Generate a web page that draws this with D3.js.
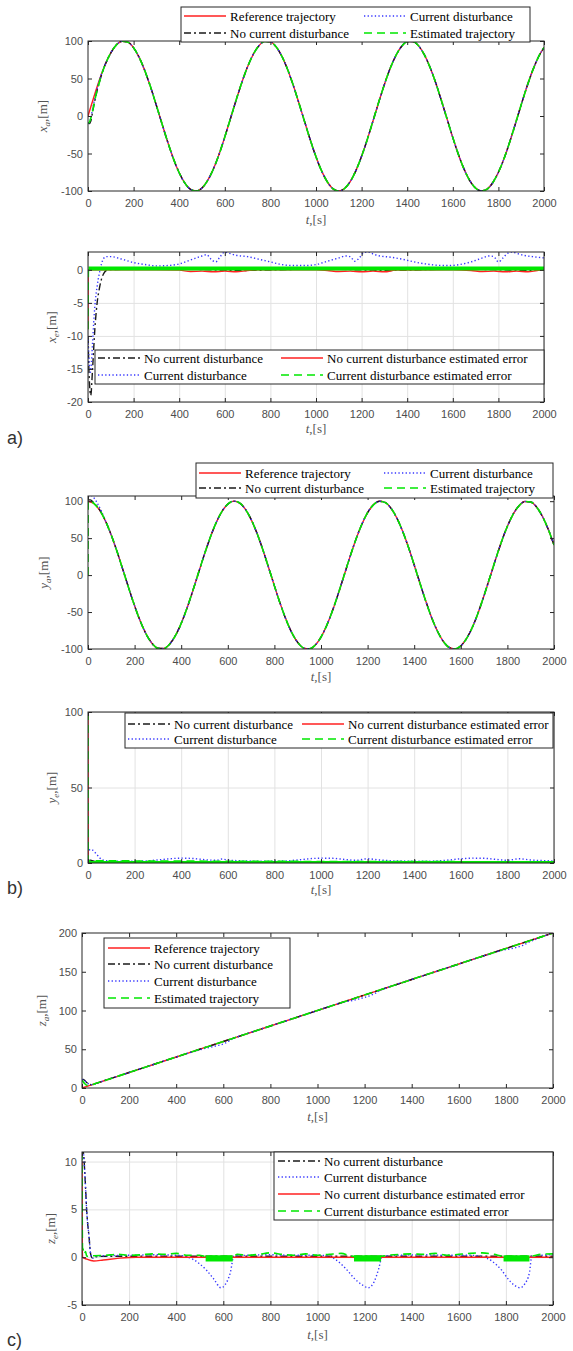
<!DOCTYPE html>
<html lang="en">
<head>
  <meta charset="utf-8">
  <script src="https://d3js.org/d3.v7.min.js"></script>
  <style>
    body { margin: 0; background: #fff; }
  </style>
</head>
<body>
  <svg id="fig" width="573" height="1351"></svg>

  <script>
    // ---- data ----
    const tTicks = [0, 200, 400, 600, 800, 1000, 1200, 1400, 1600, 1800, 2000];

    // time samples for the trajectory panels
    const tGrid = [0,25,50,75,100,125,150,175,200,225,250,275,300,325,350,375,400,425,450,475,500,525,550,575,600,625,650,675,700,725,750,775,800,825,850,875,900,925,950,975,1000,1025,1050,1075,1100,1125,1150,1175,1200,1225,1250,1275,1300,1325,1350,1375,1400,1425,1450,1475,1500,1525,1550,1575,1600,1625,1650,1675,1700,1725,1750,1775,1800,1825,1850,1875,1900,1925,1950,1975,2000];

    // a) x reference trajectory
    const xRef = [0,24.7,47.9,68.2,84.1,94.9,99.7,98.4,90.9,77.8,59.8,38.2,14.1,-10.8,-35.1,-57.2,-75.7,-89.5,-97.8,-99.9,-95.9,-85.9,-70.6,-51.0,-27.9,-3.3,21.5,45.0,65.7,82.3,93.8,99.5,98.9,92.2,79.8,62.4,41.2,17.3,-7.5,-32.0,-54.4,-73.5,-88.0,-97.1,-100,-96.7,-87.5,-72.8,-53.7,-31.3,-6.6,18.3,42.0,63.2,80.4,92.6,99.1,99.4,93.5,81.8,65.0,44.3,20.6,-4.2,-28.8,-51.6,-71.2,-86.4,-96.1,-99.9,-97.6,-89.0,-75.1,-56.5,-34.4,-9.9,15.0,39.0,60.5,78.3,91.3];
    // start of the other x curves (they lie on the reference afterwards)
    const xNoCurHeadT = [0, 6, 12, 20, 30, 40, 50, 60];
    const xNoCurHead  = [-9, -10, -7, 5, 20.6, 34, 45, 55.5];
    const xCurHeadT   = [0, 5, 10, 20, 30, 40, 50, 60];
    const xCurHead    = [-9, -9, -5.5, 9, 24, 36.4, 47.4, 57];
    const xEstHeadT   = [0, 3, 8, 15, 25, 35, 50, 60];
    const xEstHead    = [-9, -9.3, -7, 0, 14, 28, 45, 55.5];

    // a) x errors
    const xeNoCurT = [0, 5, 12, 20, 30, 40, 50, 60, 70, 80, 100, 400, 600, 650, 1000, 1250, 1300, 1600, 1880, 1930, 2000];
    const xeNoCur  = [-10, -16, -19, -15, -9, -5, -2.8, -1.3, -0.5, -0.1, 0.05, 0.1, -0.05, -0.1, 0.1, -0.05, -0.1, 0.1, -0.05, -0.1, 0.1];
    const xeCurT = [0,5,10,15,20,25,30,40,50,60,70,80,100,150,200,250,300,350,400,450,500,520,540,560,580,600,620,650,700,750,800,850,900,950,1000,1050,1100,1130,1150,1170,1190,1210,1230,1250,1280,1330,1380,1430,1480,1530,1580,1630,1680,1730,1760,1780,1800,1820,1840,1860,1880,1910,1950,2000];
    const xeCur  = [-10,-14,-15.5,-14,-11,-8,-5.5,-2.5,-0.5,1.0,1.8,2.0,2.0,1.6,1.1,0.8,0.6,0.65,0.9,1.5,2.1,2.3,1.6,1.2,2.0,2.7,2.5,2.2,2.0,1.6,1.2,0.8,0.65,0.65,0.8,1.3,1.8,2.1,2.0,1.3,1.8,2.6,2.7,2.4,2.1,1.9,1.6,1.2,0.9,0.7,0.65,0.8,1.2,1.8,2.1,2.0,1.2,1.8,2.5,2.7,2.5,2.2,2.0,1.8];
    const xeRefT = [0,1,3,100,300,400,450,500,550,600,650,700,750,1000,1050,1100,1150,1200,1250,1300,1350,1600,1680,1730,1780,1830,1880,1930,1970,2000];
    const xeRef  = [-9,-0.5,0,0,0,-0.05,-0.25,-0.2,-0.3,-0.2,-0.3,-0.1,0,0,-0.1,-0.25,-0.2,-0.3,-0.2,-0.3,-0.05,0,-0.1,-0.25,-0.2,-0.3,-0.2,-0.3,-0.1,0];
    const xeEstT = [0, 1, 2, 2000];
    const xeEst  = [-9, -2, 0.2, 0.2];
    const xeEstBand = [[2, 2000, -0.1, 0.5]];   // fast oscillation envelope

    // b) y reference trajectory
    const yRef = [100,96.9,87.8,73.2,54.0,31.5,7.1,-17.8,-41.6,-62.8,-80.1,-92.4,-99.0,-99.4,-93.6,-82.0,-65.4,-44.6,-21.1,3.8,28.4,51.2,70.9,86.1,96.0,100,97.7,89.3,75.4,56.8,34.7,10.3,-14.6,-38.6,-60.2,-78.1,-91.1,-98.5,-99.7,-94.8,-83.9,-67.8,-47.6,-24.4,0.4,25.3,48.4,68.5,84.4,95.0,99.8,98.3,90.7,77.5,59.5,37.9,13.7,-11.3,-35.5,-57.6,-76.0,-89.7,-97.9,-99.9,-95.8,-85.7,-70.3,-50.5,-27.5,-2.9,21.9,45.5,66.0,82.5,93.9,99.5,98.9,92.1,79.6,62.2,40.8];
    const yNoCurHeadT = [0, 10, 25, 40, 60];
    const yNoCurHead  = [101.5, 101.8, 97.5, 92.6, 83];
    const yCurHeadT   = [0, 10, 20, 30, 40, 60];
    const yCurHead    = [106, 108, 106.6, 102.5, 97.4, 84.7];
    const yEstHeadT   = [0, 1, 4, 10, 25];
    const yEstHead    = [0, 99, 100.5, 100.5, 97];

    // b) y errors
    const yeNoCurT = [0, 10, 30, 60, 100, 2000];
    const yeNoCur  = [1.5, 1.8, 1.0, 0.6, 0.5, 0.5];
    const yeCurT = [0,5,10,20,30,40,50,60,80,100,150,200,250,300,350,400,450,500,550,575,600,650,700,750,800,850,900,950,1000,1050,1100,1150,1200,1250,1300,1350,1400,1450,1500,1550,1600,1650,1700,1750,1800,1850,1900,1950,2000];
    const yeCur  = [6,8.2,9,8.6,7,5.3,3.5,2.2,1.5,1.3,1.2,1.2,1.4,2.0,2.8,3.2,3.0,2.2,1.8,2.6,2.0,1.5,1.3,1.2,1.2,1.4,2.0,2.8,3.2,3.1,2.4,1.8,2.8,2.0,1.5,1.3,1.2,1.2,1.4,2.0,2.8,3.2,3.1,2.4,1.8,2.8,2.0,1.6,1.4];
    const yeRefT = [0,1,3,300,330,370,410,440,930,960,1000,1040,1070,1560,1590,1630,1670,1700,2000];
    const yeRef  = [100,3,0.3,0.3,-0.4,-0.1,-0.4,0.3,0.3,-0.4,-0.1,-0.4,0.3,0.3,-0.4,-0.1,-0.4,0.3,0.3];
    const yeEstT = [0, 1, 2000];
    const yeEst  = [100, 1.5, 0.8];
    const yeEstBand = [[1, 2000, 0, 1.4]];

    // c) z trajectories
    const zT     = [0,5,10,20,30,40,60,100,200,300,400,500,540,570,590,610,640,700,800,900,1000,1100,1160,1190,1215,1240,1270,1300,1400,1500,1600,1700,1790,1820,1845,1870,1900,2000];
    const zRef   = [0,0.5,1,2,3,4,6,10,20,30,40,50,54,57,59,61,64,70,80,90,100,110,116,119,121.5,124,127,130,140,150,160,170,179,182,184.5,187,190,200];
    const zNoCur = [10.5,11,10.3,7,5,4.3,6,10,20,30,40,50,54,57,59,61,64,70,80,90,100,110,116,119,121.5,124,127,130,140,150,160,170,179,182,184.5,187,190,200];
    const zCur   = [10.5,11,10.3,7,5,4.3,6,10,20,30,40,49.3,52.3,54.4,55.8,58.2,63.5,70,80,90,100,110,113.7,116.1,118.3,121.4,126.5,130,140,150,160,170,178,179.7,181.5,183.8,188.4,200];
    const zEst   = [10,8,6,3.5,3.2,4,6,10,20,30,40,50,54,57,59,61,64,70,80,90,100,110,116,119,121.5,124,127,130,140,150,160,170,179,182,184.5,187,190,200];

    // c) z errors
    const zeNoCurT = [0, 5, 13, 20, 30, 37, 45, 60, 100, 2000];
    const zeNoCur  = [10.5, 11, 8.3, 4.8, 2.1, 0.3, -0.1, 0.05, 0.1, 0.1];
    const zeCurT = [0,5,13,20,30,37,45,60,100,200,300,400,450,500,530,560,590,610,630,645,700,800,900,1000,1050,1080,1120,1160,1190,1215,1240,1260,1275,1350,1450,1550,1650,1700,1740,1780,1810,1840,1860,1880,1900,1910,1950,2000];
    const zeCur  = [11,11,8.3,4.8,2.1,0.3,-0.1,0.1,0.15,0.2,0.25,0.2,0.0,-0.7,-1.4,-2.3,-3.2,-2.8,-1.6,0.1,0.2,0.25,0.2,0.2,0.1,-0.3,-1.2,-2.3,-2.9,-3.2,-2.6,-1.2,0.1,0.2,0.25,0.2,0.2,0.05,-0.4,-1.3,-2.3,-3.0,-3.2,-2.8,-1.6,0.1,0.2,0.25];
    const zeRefT = [0, 1, 3, 20, 50, 90, 160, 230, 2000];
    const zeRef  = [10, 1, 0, -0.2, -0.4, -0.3, -0.1, 0, 0];
    const zeEstT = [0,2,5,10,15,20,30,50,100,150,200,250,300,350,400,450,500,520,640,660,700,750,800,850,900,950,1000,1050,1100,1150,1270,1300,1350,1400,1450,1500,1550,1600,1650,1700,1750,1790,1900,1950,2000];
    const zeEst  = [11,1,0.8,0.3,0.6,0.1,0.1,0.15,0.2,0.3,0.2,0.25,0.35,0.3,0.4,0.2,0.2,0.1,0.1,0.3,0.2,0.3,0.45,0.3,0.2,0.35,0.2,0.3,0.4,0.1,0.1,0.2,0.3,0.35,0.3,0.4,0.2,0.3,0.4,0.45,0.3,0.1,0.1,0.3,0.35];
    const zeEstBand = [[525, 640, -0.45, 0.2], [1155, 1270, -0.45, 0.2], [1790, 1900, -0.45, 0.2]];

    // ---- helpers ----
    function pairs(ts, vs) { return ts.map((t, i) => [t, vs[i]]); }
    // head of a curve, then it runs on the reference from fromT on
    function withTail(headT, headV, fromT, ref) {
      const pts = pairs(headT, headV);
      tGrid.forEach((t, i) => { if (t >= fromT) pts.push([t, ref[i]]); });
      return pts;
    }

    const lineStyles = {
      ref:   { stroke: "#ff2020", dash: null,      width: 1.4 },
      noCur: { stroke: "#1a1a1a", dash: "7,3,2,3", width: 1.4 },
      cur:   { stroke: "#3636ff", dash: "1.3,2.3", width: 1.4 },
      est:   { stroke: "#00e800", dash: "8,5",     width: 1.6 }
    };

    const trajItems = [["ref", "Reference trajectory"], ["noCur", "No current disturbance"],
                       ["cur", "Current disturbance"], ["est", "Estimated trajectory"]];
    const errItems = [["noCur", "No current disturbance"], ["cur", "Current disturbance"],
                      ["ref", "No current disturbance estimated error"], ["est", "Current disturbance estimated error"]];

    const panels = [
      { box: [88, 41, 544, 191], yDom: [-100, 100], yTicks: [-100, -50, 0, 50, 100], grid: false,
        yVar: "x", ySub: "a", yLabX: 47, xLabY: 224,
        series: [["ref", pairs(tGrid, xRef)], ["noCur", withTail(xNoCurHeadT, xNoCurHead, 75, xRef)],
                 ["cur", withTail(xCurHeadT, xCurHead, 75, xRef)], ["est", withTail(xEstHeadT, xEstHead, 75, xRef)]],
        bands: [],
        legend: { box: [181, 7, 530, 42], cols: [184, 364], rows: [16, 33], items: trajItems } },
      { box: [88, 252, 544, 402], yDom: [-20, 2.7], yTicks: [-20, -15, -10, -5, 0], grid: true,
        yVar: "x", ySub: "e", yLabX: 56, xLabY: 433, tag: ["a)", 444],
        series: [["noCur", pairs(xeNoCurT, xeNoCur)], ["cur", pairs(xeCurT, xeCur)],
                 ["ref", pairs(xeRefT, xeRef)], ["est", pairs(xeEstT, xeEst)]],
        bands: xeEstBand,
        legend: { box: [95, 350, 544, 384], cols: [98, 281], rows: [358, 375], items: errItems } },
      { box: [88, 496, 554, 649], yDom: [-100, 107], yTicks: [-100, -50, 0, 50, 100], grid: false,
        yVar: "y", ySub: "a", yLabX: 48, xLabY: 681,
        series: [["ref", pairs(tGrid, yRef)], ["noCur", withTail(yNoCurHeadT, yNoCurHead, 75, yRef)],
                 ["cur", withTail(yCurHeadT, yCurHead, 75, yRef)], ["est", withTail(yEstHeadT, yEstHead, 50, yRef)]],
        bands: [],
        legend: { box: [196, 463, 553, 498], cols: [199, 384], rows: [473, 488], items: trajItems } },
      { box: [88, 712, 554, 863], yDom: [0, 100], yTicks: [0, 50, 100], grid: true,
        yVar: "y", ySub: "e", yLabX: 56, xLabY: 894, tag: ["b)", 894],
        series: [["noCur", pairs(yeNoCurT, yeNoCur)], ["cur", pairs(yeCurT, yeCur)],
                 ["ref", pairs(yeRefT, yeRef)], ["est", pairs(yeEstT, yeEst)]],
        bands: yeEstBand,
        legend: { box: [125, 713, 553, 748], cols: [128, 302], rows: [724, 739], items: errItems } },
      { box: [82, 933, 553, 1088], yDom: [0, 200], yTicks: [0, 50, 100, 150, 200], grid: false,
        yVar: "z", ySub: "a", yLabX: 46, xLabY: 1121,
        series: [["ref", pairs(zT, zRef)], ["noCur", pairs(zT, zNoCur)],
                 ["cur", pairs(zT, zCur)], ["est", pairs(zT, zEst)]],
        bands: [],
        legend: { box: [104, 938, 290, 1008], cols: [108], rows: [948, 964, 981, 998], items: trajItems } },
      { box: [82, 1152, 553, 1305], yDom: [-5, 11], yTicks: [-5, 0, 5, 10], grid: true,
        yVar: "z", ySub: "e", yLabX: 55, xLabY: 1339, tag: ["c)", 1346],
        series: [["noCur", pairs(zeNoCurT, zeNoCur)], ["cur", pairs(zeCurT, zeCur)],
                 ["ref", pairs(zeRefT, zeRef)], ["est", pairs(zeEstT, zeEst)]],
        bands: zeEstBand,
        legend: { box: [274, 1152, 553, 1220], cols: [278], rows: [1161, 1177, 1194, 1211], items: errItems } }
    ];

    const svg = d3.select("#fig");
    const sans = "'Liberation Sans', Arial, sans-serif";
    const serif = "'Liberation Serif', 'Times New Roman', serif";

    function styleLine(sel, key) {
      const s = lineStyles[key];
      sel.attr("fill", "none")
        .attr("stroke", s.stroke)
        .attr("stroke-width", s.width)
        .attr("stroke-dasharray", s.dash);
    }

    panels.forEach((p, k) => {
      const [x0, y0, x1, y1] = p.box;
      const x = d3.scaleLinear().domain([0, 2000]).range([x0, x1]);
      const y = d3.scaleLinear().domain(p.yDom).range([y1, y0]);
      const g = svg.append("g");

      // grid
      if (p.grid) {
        const gx = g.append("g").attr("transform", `translate(0,${y1})`)
          .call(d3.axisBottom(x).tickValues(tTicks).tickSize(-(y1 - y0)).tickFormat(""));
        const gy = g.append("g").attr("transform", `translate(${x0},0)`)
          .call(d3.axisLeft(y).tickValues(p.yTicks).tickSize(-(x1 - x0)).tickFormat(""));
        [gx, gy].forEach(a => {
          a.select(".domain").remove();
          a.selectAll("line").attr("stroke", "#e2e2e2").attr("stroke-width", 1);
        });
      }

      // clip
      svg.append("clipPath").attr("id", "clip" + k)
        .append("rect").attr("x", x0).attr("y", y0).attr("width", x1 - x0).attr("height", y1 - y0);
      const plot = g.append("g").attr("clip-path", `url(#clip${k})`);

      const line = d3.line().x(d => x(d[0])).y(d => y(d[1])).curve(d3.curveMonotoneX);
      p.series.forEach(([key, pts]) => {
        plot.append("path").attr("d", line(pts)).call(styleLine, key);
      });

      // envelope of the fast oscillating estimated error
      const band = d3.area().x(d => x(d[0])).y0(d => y(d[1])).y1(d => y(d[2]));
      p.bands.forEach(b => {
        plot.append("path")
          .attr("d", band([[b[0], b[2], b[3]], [b[1], b[2], b[3]]]))
          .attr("fill", lineStyles.est.stroke);
      });

      // box
      g.append("rect").attr("x", x0).attr("y", y0).attr("width", x1 - x0).attr("height", y1 - y0)
        .attr("fill", "none").attr("stroke", "#262626").attr("stroke-width", 1);

      // axes, ticks pointing inward on all four sides
      const fmt = d => String(d);
      const axB = g.append("g").attr("transform", `translate(0,${y1})`)
        .call(d3.axisBottom(x).tickValues(tTicks).tickSizeInner(-4).tickSizeOuter(0).tickPadding(8).tickFormat(fmt));
      const axT = g.append("g").attr("transform", `translate(0,${y0})`)
        .call(d3.axisTop(x).tickValues(tTicks).tickSizeInner(-4).tickSizeOuter(0).tickFormat(""));
      const axL = g.append("g").attr("transform", `translate(${x0},0)`)
        .call(d3.axisLeft(y).tickValues(p.yTicks).tickSizeInner(-4).tickSizeOuter(0).tickPadding(5).tickFormat(fmt));
      const axR = g.append("g").attr("transform", `translate(${x1},0)`)
        .call(d3.axisRight(y).tickValues(p.yTicks).tickSizeInner(-4).tickSizeOuter(0).tickFormat(""));
      [axB, axT, axL, axR].forEach(a => {
        a.select(".domain").remove();
        a.selectAll("line").attr("stroke", "#262626");
        a.selectAll("text").attr("font-family", sans).attr("font-size", 11).attr("fill", "#4d4d4d");
      });

      // axis labels
      const xl = g.append("text").attr("x", (x0 + x1) / 2).attr("y", p.xLabY)
        .attr("text-anchor", "middle").attr("font-family", serif).attr("font-size", 13).attr("fill", "#555");
      xl.append("tspan").attr("font-style", "italic").text("t");
      xl.append("tspan").text(",[s]");

      const yl = g.append("text")
        .attr("transform", `translate(${p.yLabX},${(y0 + y1) / 2}) rotate(-90)`)
        .attr("text-anchor", "middle").attr("font-family", serif).attr("font-size", 13).attr("fill", "#555");
      yl.append("tspan").attr("font-style", "italic").text(p.yVar);
      yl.append("tspan").attr("font-style", "italic").attr("font-size", 9).attr("dy", 3).text(p.ySub);
      yl.append("tspan").attr("dy", -3).text(",[m]");

      // legend
      const L = p.legend;
      const lg = g.append("g");
      lg.append("rect").attr("x", L.box[0]).attr("y", L.box[1])
        .attr("width", L.box[2] - L.box[0]).attr("height", L.box[3] - L.box[1])
        .attr("fill", "#fff").attr("stroke", "#262626").attr("stroke-width", 1);
      L.items.forEach(([key, label], i) => {
        const cx = L.cols[Math.floor(i / L.rows.length)];
        const ry = L.rows[i % L.rows.length];
        lg.append("line").attr("x1", cx).attr("x2", cx + 42).attr("y1", ry).attr("y2", ry).call(styleLine, key);
        lg.append("text").attr("x", cx + 46).attr("y", ry + 4.5)
          .attr("font-family", serif).attr("font-size", 13).attr("fill", "#000").text(label);
      });

      // sub-figure tag
      if (p.tag) {
        svg.append("text").attr("x", 7).attr("y", p.tag[1])
          .attr("font-family", sans).attr("font-size", 18).attr("fill", "#333").text(p.tag[0]);
      }
    });
  </script>
</body>
</html>
